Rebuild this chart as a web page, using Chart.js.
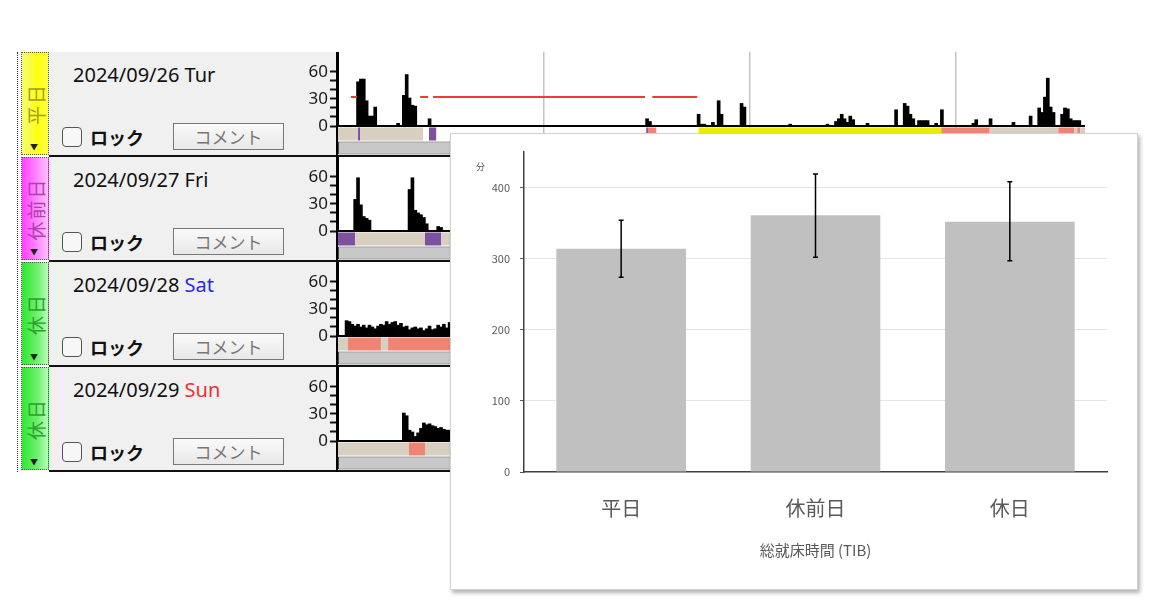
<!DOCTYPE html>
<html>
<head>
<meta charset="utf-8">
<script src="https://cdn.jsdelivr.net/npm/chart.js@4.4.1/dist/chart.umd.min.js"></script>
<style>
  body { margin: 0; width: 1160px; height: 600px; background: #fff; position: relative; overflow: hidden;
         font-family: "Noto Sans", "Noto Sans CJK JP", sans-serif; }
  .abs { position: absolute; }
  .strip { position: absolute; left: 21px; width: 26px; height: 101px; border: 1px dotted #555; }
  .strip span { position: absolute; left: 50%; top: 50%; white-space: nowrap; font-size: 19px; letter-spacing: 2px;
                font-family: "Noto Sans CJK JP", sans-serif; transform: translate(-50%, -50%) rotate(-90deg); }
  .arrow { position: absolute; left: 30px; font-size: 8px; color: #222; }
  .panel { position: absolute; left: 49px; width: 288px; height: 103px; background: #f0f0f0; }
  .date { position: absolute; left: 73px; font-size: 20px; color: #111; }
  .chk { position: absolute; left: 62px; width: 18px; height: 18px; border: 1.5px solid #555; border-radius: 4px; background: #f7f7f7; }
  .lock { position: absolute; left: 90px; font-size: 18px; font-weight: bold; color: #111; font-family: "Noto Sans CJK JP", sans-serif; }
  .btn { position: absolute; left: 173px; width: 109px; height: 25px; border: 1.5px solid #777; background: linear-gradient(#fafafa, #e8e8e8);
         font-size: 17px; color: #777; text-align: center; line-height: 25px; font-family: "Noto Sans CJK JP", sans-serif; }
  .plotbg { position: absolute; left: 338px; width: 747px; height: 103px; background: #fff; }
  .sep { position: absolute; left: 49px; width: 1036px; height: 2px; background: #111; }
  #card { position: absolute; left: 450px; top: 133px; width: 688px; height: 457px; box-sizing: border-box;
          border: 1px solid #d2d2d2; background: #fff; box-shadow: 2px 3px 4px rgba(0,0,0,0.3); z-index: 10; }
  #unit { position: absolute; left: 476px; top: 160px; font-size: 9px; color: #595959; z-index: 12;
          font-family: "Noto Sans CJK JP", sans-serif; }
</style>
</head>
<body>
<div id="card"></div>
<div id="unit">分</div>
<canvas id="tib" width="688" height="457" style="position:absolute;left:450px;top:133px;width:688px;height:457px;z-index:11"></canvas>
<script>
// main chart: total time in bed by day type
const categories = ['平日', '休前日', '休日'];
const tibMean = [314, 361, 352];
const tibHigh = [354, 419, 408];
const tibLow = [274, 302, 297];
const yTicks = [0, 100, 200, 300, 400];
const xTitle = '総就床時間 (TIB)';

// background app rows
const dayDates = ['2024/09/26', '2024/09/27', '2024/09/28', '2024/09/29'];
const dayWeekdays = ['Tur', 'Fri', 'Sat', 'Sun'];
const dayTypes = ['平日', '休前日', '休日', '休日'];

// activity counts per 5-min epoch
const day1Epochs = [7, 8, 9, 10, 11, 12, 13, 21, 23, 24, 25, 26, 27, 32, 108, 109, 126, 127, 128, 131, 133, 134, 141, 142,
  158, 171, 174, 175, 176, 177, 178, 179, 180, 185, 195, 198, 199, 200, 201, 203, 204, 205, 206, 209, 211,
  222, 223, 228, 236, 242, 245, 246, 247, 248, 249, 250, 253, 254, 255, 256, 257, 258, 259];
const day1Counts = [49, 52, 52, 28, 11, 11, 21, 3, 34, 57, 31, 23, 22, 8, 8, 5, 13, 2, 2, 4, 28, 13, 25, 21,
  2, 2, 5, 8, 13, 8, 4, 11, 7, 3, 18, 25, 22, 13, 8, 6, 6, 6, 6, 3, 18,
  3, 7, 8, 4, 11, 20, 15, 32, 53, 21, 15, 13, 20, 19, 8, 6, 6, 6];
const day2Epochs = [6, 7, 8, 9, 10, 11, 25, 26, 27, 28, 29, 30, 31, 35, 36];
const day2Counts = [35, 59, 29, 16, 14, 12, 46, 59, 23, 20, 18, 15, 8, 5, 4];
const day3Epochs = [3, 4, 5, 6, 7, 8, 9, 10, 11, 12, 13, 14, 15, 16, 17, 18, 19, 20, 21, 22, 23, 24, 25, 26, 27, 28, 29,
  30, 31, 32, 33, 34, 35, 36, 37, 38, 39];
const day3Counts = [17, 16, 13, 11, 13, 10, 12, 9, 12, 10, 8, 11, 13, 12, 16, 13, 15, 16, 12, 14, 10, 11, 7, 9, 10, 8, 9,
  6, 8, 11, 7, 8, 12, 10, 13, 9, 15];
const day4Epochs = [23, 24, 25, 26, 27, 28, 29, 30, 31, 32, 33, 34, 35, 36, 37, 38, 39, 40];
const day4Counts = [31, 28, 12, 10, 5, 9, 14, 20, 18, 19, 17, 16, 14, 15, 13, 12, 12, 11];

// red threshold segments (day 1 only)
const day1MarkLevel = 32;
const day1MarkFrom = [4.5, 28.7, 33.2, 109.8];
const day1MarkTo = [6.6, 31.5, 107.3, 125.5];

// state strip segments (epochs) and state codes
const day1StateFrom = [0, 7, 7.7, 31.8, 107.7, 108.3, 126, 210.8, 227.7, 251.7, 257.3, 258.3, 259.3];
const day1StateTo = [7, 7.7, 29.7, 34.3, 108.3, 111.2, 210.8, 227.7, 251.7, 257.3, 258.3, 259.3, 261];
const day1States = ['B', 'P', 'B', 'P', 'P', 'S', 'Y', 'S', 'B', 'S', 'B', 'S', 'B'];
const day2StateFrom = [0, 6, 30.4, 36];
const day2StateTo = [6, 30.4, 36, 60];
const day2States = ['P', 'B', 'P', 'B'];
const day3StateFrom = [0, 3.5, 15, 17.5];
const day3StateTo = [3.5, 15, 17.5, 60];
const day3States = ['B', 'S', 'B', 'S'];
const day4StateFrom = [0, 24.8, 30.4];
const day4StateTo = [24.8, 30.4, 60];
const day4States = ['B', 'S', 'B'];

const epochRange = 261;
const sixHourEpochs = [72, 144, 216];
const histTicks = [0, 10, 20, 30, 40, 50, 60];
const histLabels = [0, 30, 60];

const jp = '"Noto Sans CJK JP", sans-serif';
const stateColors = { B: '#d7d0c1', P: '#7d51a0', S: '#f08474', Y: '#ecec00' };
const stripStyles = [
  { bg: 'linear-gradient(to right, #f2ff70, #ffff10 60%, #ffff40)', fg: '#a0a020' },
  { bg: 'linear-gradient(to right, #ff40ff, #ff8cff 60%, #ffc0ff)', fg: '#b040b0' },
  { bg: 'linear-gradient(to right, #30e830, #70f070 60%, #b8ffb8)', fg: '#30a030' },
  { bg: 'linear-gradient(to right, #30e830, #70f070 60%, #b8ffb8)', fg: '#30a030' }
];
const weekdayColors = ['#111', '#111', '#2a2ae0', '#f03030'];

const days = [
  { epochs: day1Epochs, counts: day1Counts, from: day1StateFrom, to: day1StateTo, states: day1States, mark: true },
  { epochs: day2Epochs, counts: day2Counts, from: day2StateFrom, to: day2StateTo, states: day2States },
  { epochs: day3Epochs, counts: day3Counts, from: day3StateFrom, to: day3StateTo, states: day3States },
  { epochs: day4Epochs, counts: day4Counts, from: day4StateFrom, to: day4StateTo, states: day4States }
];

function el(cls, top, html, extra) {
  const d = document.createElement('div');
  d.className = cls;
  d.style.top = top + 'px';
  if (extra) Object.assign(d.style, extra);
  if (html !== undefined) d.innerHTML = html;
  document.body.appendChild(d);
  return d;
}

function addCanvas(left, top, w, h) {
  const c = document.createElement('canvas');
  c.width = w; c.height = h;
  c.style.cssText = `position:absolute;left:${left}px;top:${top}px;width:${w}px;height:${h}px;z-index:2`;
  document.body.appendChild(c);
  return c;
}

function histChart(canvas, day) {
  const bars = day.epochs.map((e, i) => ({ x: e, y: day.counts[i] }));
  const mark = [];
  if (day.mark) {
    day1MarkFrom.forEach((f, i) => {
      mark.push({ x: f, y: day1MarkLevel }, { x: day1MarkTo[i], y: day1MarkLevel }, { x: day1MarkTo[i], y: null });
    });
  }
  new Chart(canvas, {
    type: 'bar',
    data: {
      datasets: [
        { type: 'line', data: mark, borderColor: '#f03a3a', borderWidth: 2, pointRadius: 0, order: 0 },
        { data: bars, backgroundColor: '#000', barThickness: 3, order: 1 }
      ]
    },
    options: {
      responsive: false, animation: false, events: [],
      layout: { padding: { bottom: 10, top: 0, left: 0, right: 0 } },
      plugins: { legend: { display: false }, tooltip: { enabled: false } },
      scales: {
        x: {
          type: 'linear', min: 0, max: epochRange, offset: false,
          afterBuildTicks: s => { s.ticks = sixHourEpochs.map(v => ({ value: v })); },
          ticks: { display: false },
          grid: { color: '#c4c4c4', lineWidth: 1.5, drawTicks: false, offset: false },
          border: { color: '#000', width: 2 },
          afterFit: s => { s.height = 0; s.paddingLeft = 0; s.paddingRight = 0; }
        },
        y: {
          min: 0, max: 82,
          afterBuildTicks: s => { s.ticks = histTicks.map(v => ({ value: v })); },
          ticks: {
            autoSkip: false,
            callback: v => histLabels.includes(v) ? String(v) : '',
            color: '#1a1a1a', padding: 2, font: { family: '"Noto Sans", sans-serif', size: 17 }
          },
          grid: { drawOnChartArea: false, drawTicks: true, tickLength: 8, tickColor: '#111', tickWidth: 2, color: '#111' },
          border: { color: '#000', width: 2 },
          afterFit: s => { s.width = 42; s.paddingTop = 0; s.paddingBottom = 0; }
        }
      }
    }
  });
}

function stateChart(canvas, day) {
  const segs = day.from.map((f, i) => ({ y: 'state', x: [f, day.to[i]] }));
  const colors = day.states.map(s => stateColors[s]);
  segs.push({ y: 'bar', x: [0, epochRange] });
  colors.push('#c8c8c8');
  new Chart(canvas, {
    type: 'bar',
    data: {
      labels: ['state', 'bar'],
      datasets: [{
        data: segs, backgroundColor: colors,
        borderColor: colors.map((c, i) => i === colors.length - 1 ? '#444' : c),
        borderWidth: colors.map((c, i) => i === colors.length - 1 ? 1 : 0),
        borderSkipped: false,
        categoryPercentage: 1, barPercentage: 0.93
      }]
    },
    options: {
      indexAxis: 'y', responsive: false, animation: false, events: [],
      plugins: { legend: { display: false }, tooltip: { enabled: false } },
      scales: {
        x: {
          type: 'linear', min: 0, max: epochRange,
          afterBuildTicks: s => { s.ticks = sixHourEpochs.map(v => ({ value: v })); },
          ticks: { display: false },
          grid: { color: '#c4c4c4', lineWidth: 1.5, drawTicks: false, offset: false },
          border: { display: false },
          afterFit: s => { s.height = 0; s.paddingLeft = 0; s.paddingRight = 0; }
        },
        y: { display: false }
      }
    }
  });
}

days.forEach((day, i) => {
  const top = 52 + i * 105;
  el('strip', top, `<span style="color:${stripStyles[i].fg}">${dayTypes[i]}</span>`, { background: stripStyles[i].bg });
  el('arrow', top + 89, '▼');
  el('panel', top);
  el('date', top + 9, `${dayDates[i]} <span style="color:${weekdayColors[i]}">${dayWeekdays[i]}</span>`);
  el('chk', top + 75);
  el('lock', top + 72, 'ロック');
  el('btn', top + 71, 'コメント');
  el('plotbg', top);
  el('sep', top + 103);
  histChart(addCanvas(296, top, 789, 84), day);
  stateChart(addCanvas(338, top + 75, 747, 28), day);
});
el('abs', 52, '', { left: '336px', width: '2px', height: '420px', background: '#000', zIndex: 3 });
el('abs', 52, '', { left: '17px', width: '0', height: '420px', borderLeft: '1px dotted #333' });

// error bars drawn from the high/low arrays through the chart's scales
const errorBars = {
  id: 'errorBars',
  afterDatasetsDraw(chart) {
    const { ctx, scales: { x, y } } = chart;
    ctx.save();
    ctx.strokeStyle = '#000';
    ctx.lineWidth = 1.5;
    categories.forEach((c, i) => {
      const px = x.getPixelForValue(i);
      const hi = y.getPixelForValue(tibHigh[i]);
      const lo = y.getPixelForValue(tibLow[i]);
      ctx.beginPath();
      ctx.moveTo(px, hi); ctx.lineTo(px, lo);
      ctx.moveTo(px - 2.5, hi); ctx.lineTo(px + 2.5, hi);
      ctx.moveTo(px - 2.5, lo); ctx.lineTo(px + 2.5, lo);
      ctx.stroke();
    });
    ctx.restore();
  }
};

new Chart(document.getElementById('tib'), {
  type: 'bar',
  data: {
    labels: categories,
    datasets: [{
      data: tibMean,
      backgroundColor: '#c0c0c0',
      categoryPercentage: 1,
      barPercentage: 0.667
    }]
  },
  options: {
    responsive: false, animation: false, events: [],
    layout: { padding: { left: 0, top: 19, right: 31, bottom: 0 } },
    plugins: { legend: { display: false }, tooltip: { enabled: false } },
    scales: {
      x: {
        grid: { display: false, drawTicks: false },
        border: { color: '#404040', width: 1.5 },
        ticks: { color: '#595959', font: { family: jp, size: 20 }, padding: 24 },
        title: { display: true, text: xTitle, color: '#595959', font: { family: jp, size: 15 }, padding: { top: 0, bottom: 31 } },
        afterFit: s => { s.height = 118; s.paddingLeft = 0; s.paddingRight = 0; }
      },
      y: {
        min: 0, max: 450,
        afterBuildTicks: s => { s.ticks = yTicks.map(v => ({ value: v })); },
        grid: { color: c => c.tick.value === 0 ? 'transparent' : '#e4e4e4', tickColor: '#595959', tickLength: 4 },
        border: { color: '#404040', width: 1.5 },
        ticks: { color: '#595959', font: { family: jp, size: 11 }, padding: 10 },
        afterFit: s => { s.width = 74; s.paddingTop = 0; s.paddingBottom = 0; }
      }
    }
  },
  plugins: [errorBars]
});
</script>
</body>
</html>
